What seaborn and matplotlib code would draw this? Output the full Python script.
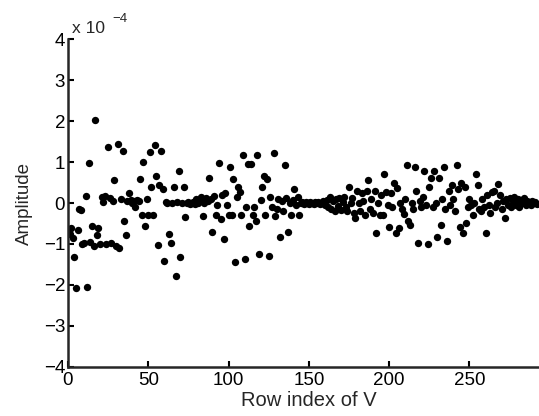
import numpy as np
import pandas as pd
import matplotlib
matplotlib.use("Agg")
import matplotlib.pyplot as plt
import seaborn as sns

# amplitude per row of V, in units of 1e-4
amp_1_50 = [-0.75, -0.62, -0.85, -1.32, -2.08, -0.65, -0.15, -0.18, -1.0, -0.97,
            0.18, -2.06, 0.98, -0.95, -0.55, -1.05, 2.02, -0.78, -0.60, -1.0,
            0.14, 0.02, 0.18, -1.0, 1.37, 0.12, -0.97, 0.05, 0.56, -1.05,
            1.45, -1.1, 0.1, 1.28, -0.45, -0.78, 0.05, 0.25, 0.08, 0.0,
            0.05, -0.1, 0.07, 0.05, 0.59, -0.29, 1.0, -0.56, 0.1, -0.3]
amp_51_100 = [1.25, 0.38, -0.3, 1.41, 0.66, -1.02, 0.45, 1.28, 0.35, -1.41,
              0.02, 0.0, -0.76, -0.98, 0.0, 0.4, -1.77, 0.02, 0.79, -1.31,
              0.0, 0.38, -0.35, 0.0, 0.02, -0.02, 0.0, 0.03, -0.03, 0.1,
              0.0, 0.05, 0.15, -0.32, 0.0, 0.12, 0.05, 0.6, 0.1, -0.7,
              0.18, -0.3, -0.05, 0.97, -0.4, 0.2, -0.89, 0.24, -0.05, -0.3]
amp_101_150 = [0.87, -0.3, 0.59, -1.43, 0.14, 0.39, 0.27, -0.3, 1.17, -1.37,
               -0.09, 0.94, -0.55, 0.94, -0.3, -0.09, -0.45, 1.17, -1.24, 0.07,
               0.38, 0.66, -0.3, 0.58, -1.29, 0.14, -0.1, 1.23, -0.32, -0.15,
               0.1, -0.82, 0.05, -0.2, 0.92, 0.12, -0.7, 0.0, -0.3, 0.08,
               0.33, -0.05, 0.15, -0.3, 0.0, 0.02, -0.02, 0.03, 0.0, -0.03]
amp_151_200 = [0.02, 0.0, -0.02, 0.03, 0.0, 0.02, -0.03, 0.0, 0.05, -0.05,
               0.08, -0.1, 0.15, -0.15, 0.05, -0.2, 0.1, -0.08, 0.12, -0.18,
               0.03, 0.15, -0.1, -0.2, 0.38, 0.0, 0.13, -0.25, -0.37, 0.3,
               0.0, -0.2, 0.25, 0.05, -0.3, 0.3, 0.56, -0.15, 0.1, -0.25,
               0.3, -0.72, 0.0, -0.3, 0.2, -0.3, 0.71, 0.28, -0.05, -0.58]
amp_201_250 = [0.25, -0.1, 0.49, -0.72, 0.37, -0.6, 0.0, -0.15, -0.27, 0.1,
               0.93, -0.45, -0.54, 0.0, -0.15, 0.88, 0.3, -0.97, 0.05, -0.1,
               0.15, 0.78, -0.05, -1.0, 0.4, 0.6, -0.1, 0.78, 0.0, -0.84,
               0.6, -0.54, 0.1, 0.88, -0.15, -0.93, 0.3, -0.05, 0.45, 0.1,
               -0.2, 0.93, 0.35, -0.58, 0.5, -0.72, 0.4, -0.5, -0.1, 0.1]
amp_251_292 = [-0.05, -0.29, 0.0, 0.71, 0.44, -0.15, -0.2, 0.1, -0.1, -0.73,
               0.2, -0.05, -0.25, 0.28, 0.3, -0.1, 0.0, 0.46, 0.2, -0.15,
               0.05, -0.37, 0.1, -0.05, 0.12, -0.1, 0.05, 0.15, -0.05, 0.1,
               -0.1, 0.08, 0.0, 0.12, -0.05, 0.05, 0.02, -0.05, 0.05, 0.0,
               0.03, -0.02]

amplitude = amp_1_50 + amp_51_100 + amp_101_150 + amp_151_200 + amp_201_250 + amp_251_292
row_index = list(range(1, len(amplitude) + 1))

df = pd.DataFrame({"row": row_index, "amp": amplitude})

sns.set_style("ticks")
plt.rcParams['font.family'] = ['Liberation Sans', 'DejaVu Sans']

fig = plt.figure(figsize=(5.39, 4.16), dpi=100)
# axes runs past the right edge of the figure (xlim 0..300, cropped)
ax = fig.add_axes([0.126, 0.118, 0.894, 0.788])

sns.scatterplot(data=df, x="row", y="amp", ax=ax, color="black",
                s=28, edgecolor="black", linewidth=0, legend=False)

ax.set_xlim(0, 300)
ax.set_ylim(-4, 4)
ax.set_xticks([0, 50, 100, 150, 200, 250])
ax.set_yticks(range(-4, 5))
ax.set_yticklabels([str(v).replace('-', '\u2212') for v in range(-4, 5)])

for side in ["top", "right"]:
    ax.spines[side].set_visible(False)
for side in ["left", "bottom"]:
    ax.spines[side].set_linewidth(1.8)
ax.tick_params(direction="in", length=4, width=1.5, labelsize=13.5, pad=2,
               colors="black")
ax.tick_params(axis="x", pad=4)

ax.set_xlabel("Row index of V", fontsize=14.5, labelpad=1)
ax.set_ylabel("Amplitude", fontsize=13.5, labelpad=8)

# MATLAB style exponent label
fig.text(0.133, 0.921, "x 10", fontsize=12.5, ha="left", va="baseline")
fig.text(0.209, 0.947, "\u22124", fontsize=9.5, ha="left", va="baseline")

fig.savefig("out.png", dpi=100)
